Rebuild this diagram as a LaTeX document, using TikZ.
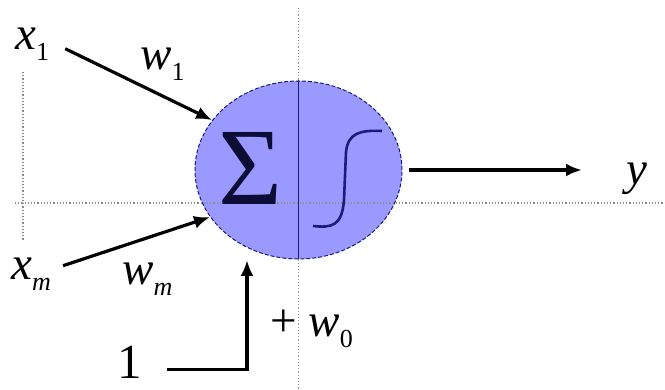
\documentclass[tikz,border=0pt]{standalone}
\usepackage{fontspec}
\setmainfont{Liberation Serif}
\usetikzlibrary{arrows.meta,shapes.geometric}
\definecolor{cellblue}{HTML}{9999FF}
\definecolor{navy}{HTML}{1C1C78}
\definecolor{guidegray}{HTML}{8C8C8C}
\newcommand{\idx}[1]{\raisebox{-11pt}{\fontsize{26}{28}\selectfont #1}}

\begin{document}
\begin{tikzpicture}[x=1pt,y=-1pt,
  lbl/.style={font=\fontsize{47}{56}\selectfont,inner sep=0pt,anchor=base west},
  arr/.style={line width=3.2pt,-{Latex[length=16pt,width=13pt]}},
  guide/.style={guidegray,line width=1.2pt,dotted}]
  \useasboundingbox (0,0) rectangle (665,390);
  % The unit: sum on the left half, threshold on the right half.
  \node[ellipse,draw=navy,dash pattern=on 4pt off 2pt,line width=1pt,fill=cellblue,
        minimum width=207pt,minimum height=178pt,inner sep=0pt] (neuron) at (298.5,170) {};
  \draw[navy,line width=1pt] (neuron.north) -- (neuron.south);
  % Guide lines.
  \draw[guide] (15,203) -- (665,203);
  \draw[guide] (23,72) -- (23,240);
  \draw[guide] (298.5,8) -- (neuron.north);
  \draw[guide] (neuron.south) -- (298.5,390);
  \node[font=\fontsize{110}{120}\selectfont,inner sep=0pt,text=navy!45!black] (sum) at (251,168) {Σ};
  \draw[navy,line width=2.6pt] (313,226) .. controls (332,228) and (342,226) .. (344,200)
    -- (346,152) .. controls (348,133) and (360,130) .. (382,131);
  % Inputs, weights and output.
  \node[lbl] (x1) at (15,50) {\textit{x}\idx{1}};
  \node[lbl] (w1) at (140,70) {\textit{w}\idx{1}};
  \node[lbl] (xm) at (11,280) {\textit{x}\idx{\textit{m}}};
  \node[lbl] (wm) at (122,285) {\textit{w}\idx{\textit{m}}};
  \node[lbl,font=\fontsize{49}{56}\selectfont] (one) at (117,379) {1};
  \node[lbl] (w0) at (270,337) {+ \textit{w}\idx{0}};
  \node[lbl] (y) at (626,185) {\textit{y}};
  \coordinate (bias) at (247,260);
  \draw[arr] ([shift={(16pt,-4pt)}]x1.east) -- (neuron.150);
  \draw[arr] ([shift={(12pt,9pt)}]xm.east) -- (neuron.208);
  \draw[arr] ([shift={(25pt,-7pt)}]one.east) -| (bias);
  \draw[arr] ([xshift=6pt]neuron.east) -- ([xshift=-44pt]neuron.east -| y.west);
\end{tikzpicture}
\end{document}
